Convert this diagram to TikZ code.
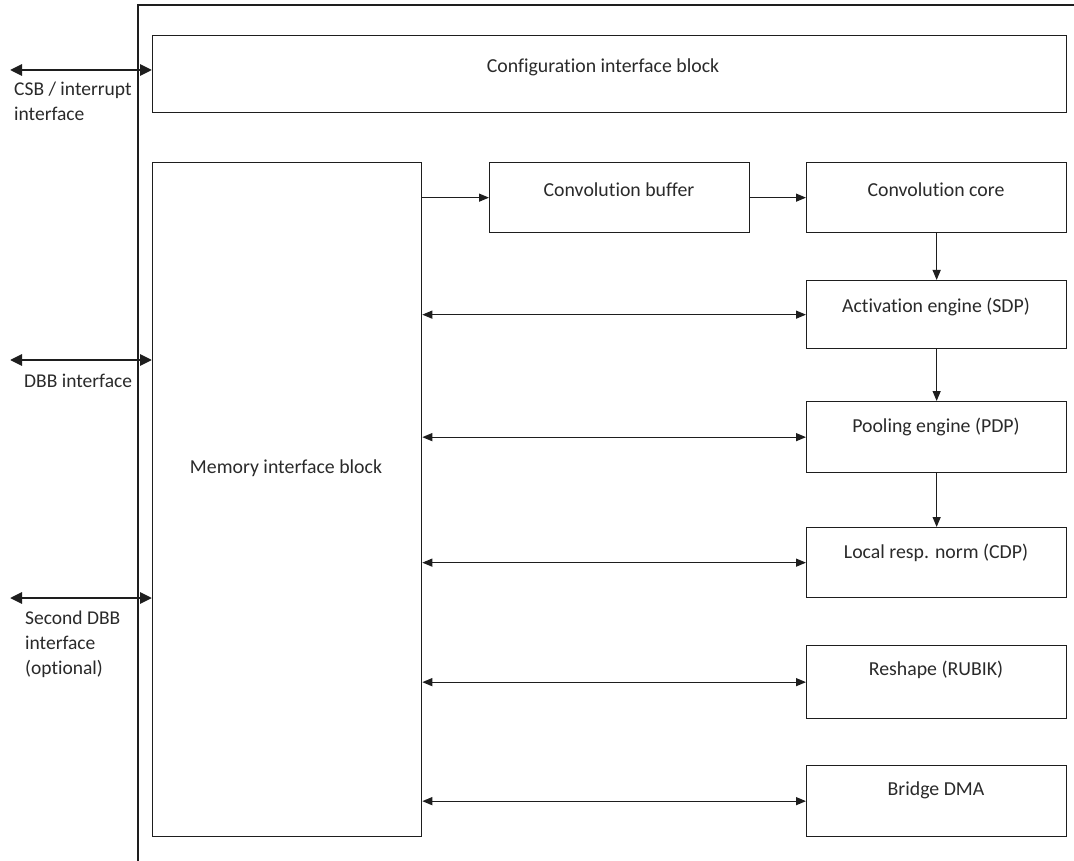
\documentclass[tikz,border=0pt]{standalone}
\usepackage{fontspec}
\setmainfont{Carlito}[Ligatures=NoCommon]
\usetikzlibrary{arrows.meta}
\definecolor{ink}{HTML}{1E1E1E}
\definecolor{txt}{HTML}{2A2A2A}
\tikzset{
  blk/.style={draw=ink, line width=1.3pt, inner sep=0pt, anchor=north west},
  lbl/.style={text=txt, font=\fontsize{19.8}{24}\selectfont, inner sep=0pt},
  side/.style={text=txt, font=\fontsize{19.5}{25}\selectfont, inner sep=0pt, align=left, anchor=north west},
  flow/.style={draw=ink, line width=1.2pt, -{Triangle[length=10pt,width=8pt]}},
  both/.style={draw=ink, line width=1.2pt, {Triangle[length=10pt,width=8pt]}-{Triangle[length=10pt,width=8pt]}},
  port/.style={draw=ink, line width=2.8pt, {Triangle[length=12pt,width=11pt]}-{Triangle[length=12pt,width=11pt]}}
}
\begin{document}
\begin{tikzpicture}[x=1pt, y=-1pt]
\useasboundingbox[fill=white] (0,0) rectangle (1074,861);

% outer frame: top and left edges only
\draw[ink, line width=1.2pt] (138,861) -- (138,5) -- (1074,5);

% blocks
\node[blk, minimum width=914pt, minimum height=77pt] (cfg) at (152,35) {};
\node[blk, minimum width=269pt, minimum height=674pt] (mem) at (152,162) {};
\node[blk, minimum width=260pt, minimum height=70pt] (cbuf) at (489,162) {};
\node[blk, minimum width=260pt, minimum height=70pt] (core) at (806,162) {};
\node[blk, minimum width=260pt, minimum height=68pt] (sdp) at (806,280) {};
\node[blk, minimum width=260pt, minimum height=71pt] (pdp) at (806,401) {};
\node[blk, minimum width=260pt, minimum height=70pt] (cdp) at (806,527) {};
\node[blk, minimum width=260pt, minimum height=73pt] (rubik) at (806,645) {};
\node[blk, minimum width=260pt, minimum height=71pt] (bdma) at (806,765) {};

% block titles
\node[lbl] (cfgT) at (603,67) {Configuration interface block};
\node[lbl] (memT) at (286,468) {Memory interface block};
\node[lbl] (cbufT) at (619,190) {Convolution buffer};
\node[lbl] (coreT) at (936,190) {Convolution core};
\node[lbl] (sdpT) at (936,307) {Activation engine (SDP)};
\node[lbl] (pdpT) at (936,427) {Pooling engine (PDP)};
\node[lbl] (cdpT) at (936,553) {Local resp. norm (CDP)};
\node[lbl] (rubikT) at (936,670) {Reshape (RUBIK)};
\node[lbl] (bdmaT) at (936,790) {Bridge DMA};

% external ports
\coordinate (csbEnd) at (10,70);
\coordinate (dbbEnd) at (10,360);
\coordinate (sdbbEnd) at (10,598);
\draw[port] (csbEnd) -- (csbEnd -| cfg.west);
\draw[port] (dbbEnd) -- (dbbEnd -| mem.west);
\draw[port] (sdbbEnd) -- (sdbbEnd -| mem.west);
\node[side] (csbL) at (14,82) {CSB / interrupt\\interface};
\node[side] (dbbL) at (24,374) {DBB interface};
\node[side] (sdbbL) at (25,611) {Second DBB\\interface\\(optional)};

% convolution pipeline
\draw[flow] (cbuf.west -| mem.east) -- (cbuf.west);
\draw[flow] (cbuf.east) -- (core.west);
\draw[flow] (core.south) -- (sdp.north);
\draw[flow] (sdp.south) -- (pdp.north);
\draw[flow] (pdp.south) -- (cdp.north);

% memory paths
\draw[both] (sdp.west -| mem.east) -- (sdp.west);
\draw[both] (pdp.west -| mem.east) -- (pdp.west);
\draw[both] (cdp.west -| mem.east) -- (cdp.west);
\draw[both] (rubik.west -| mem.east) -- (rubik.west);
\draw[both] (bdma.west -| mem.east) -- (bdma.west);
\end{tikzpicture}
\end{document}
